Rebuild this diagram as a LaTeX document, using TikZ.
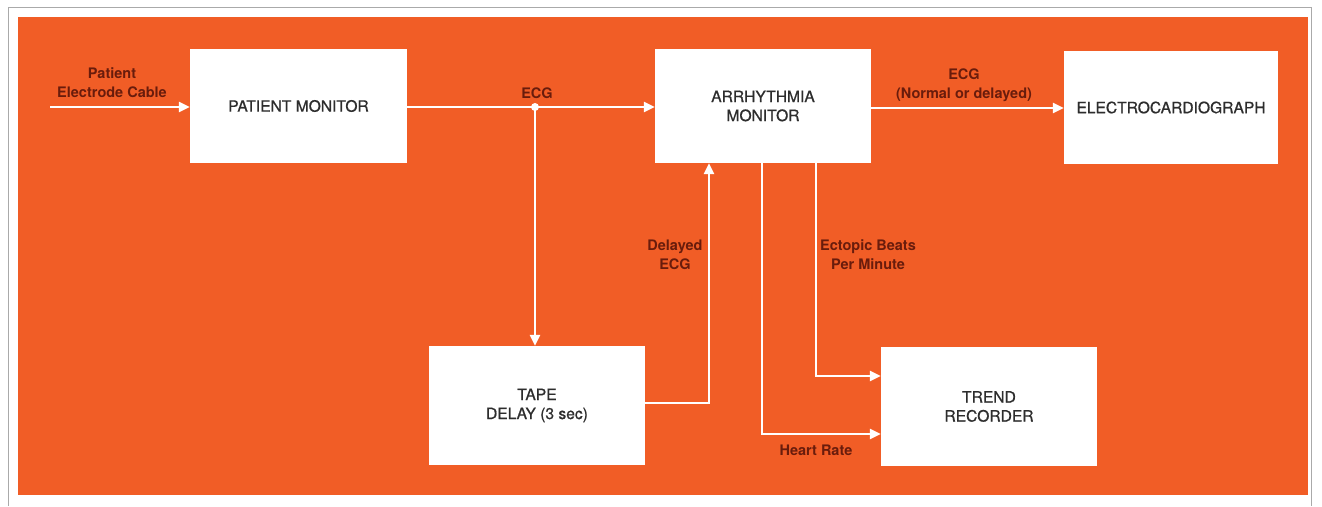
\documentclass[tikz,border=0pt]{standalone}
\usepackage{fontspec}
\setmainfont{TeX Gyre Heros}
\newfontfamily\medfont[FakeBold=0.8]{TeX Gyre Heros}
\usetikzlibrary{arrows.meta}
\definecolor{bgorange}{RGB}{241,93,38}
\definecolor{lblcol}{RGB}{105,28,12}
\definecolor{boxtxt}{RGB}{45,45,45}
\definecolor{framegray}{RGB}{170,170,170}
\tikzset{
  blk/.style={fill=white, draw=none, inner sep=0pt, align=center, text=boxtxt,
    font=\medfont\fontsize{15.6}{19}\selectfont},
  lbl/.style={text=lblcol, align=center, inner sep=0pt,
    font=\bfseries\fontsize{14.5}{19}\selectfont},
  wire/.style={draw=white, line width=2.6pt},
  arr/.style={wire, -{Triangle[length=11pt,width=10pt]}, shorten >=0pt}
}
\begin{document}
\begin{tikzpicture}[x=1pt,y=-1pt]
\useasboundingbox (0,0) rectangle (1322,506);
% frame and background
\draw[framegray, line width=0.8pt] (8,506) -- (8,7) -- (1311,7) -- (1311,506);
\fill[bgorange] (18,17) rectangle (1308,495);
% blocks
\node[blk, minimum width=217pt, minimum height=114pt] (pm) at (298.5,106) {PATIENT MONITOR};
\node[blk, minimum width=216pt, minimum height=114pt] (am) at (763,106) {ARRHYTHMIA\\MONITOR};
\node[blk, minimum width=214pt, minimum height=113pt] (ec) at (1171,107.5) {ELECTROCARDIOGRAPH};
\node[blk, minimum width=216pt, minimum height=119pt] (td) at (537,405.5) {TAPE\\DELAY (3 sec)};
\node[blk, minimum width=216pt, minimum height=119pt] (tr) at (989,406.5) {TREND\\RECORDER};
% helper coordinates
\coordinate (in) at (50,107);
\coordinate (j) at (535,107);
\coordinate (dx) at (709,403);
\coordinate (hrturn) at (762,434);
\coordinate (epturn) at (816,376);
% connectors
\draw[arr] (in) -- (pm.west |- in);
\draw[arr] (pm.east |- j) -- (am.west |- j);
\draw[arr] (j) -- (td.north -| j);
\fill[white] (j) circle (4pt);
\draw[arr] (td.east |- dx) -- (dx) -- (am.south -| dx);
\draw[arr] (am.east |- 0,108) -- (ec.west |- 0,108);
\draw[arr] (am.south -| hrturn) -- (hrturn) -- (tr.west |- hrturn);
\draw[arr] (am.south -| epturn) -- (epturn) -- (tr.west |- epturn);
% labels
\node[lbl] (l1) at (112,83) {Patient\\Electrode Cable};
\node[lbl] (l2) at (537,93) {ECG};
\node[lbl] (l3) at (964,85) {ECG\\(Normal or delayed)};
\node[lbl] (l4) at (675,255) {Delayed\\ECG};
\node[lbl] (l5) at (868,255) {Ectopic Beats\\Per Minute};
\node[lbl] (l6) at (816,450) {Heart Rate};
\end{tikzpicture}
\end{document}
